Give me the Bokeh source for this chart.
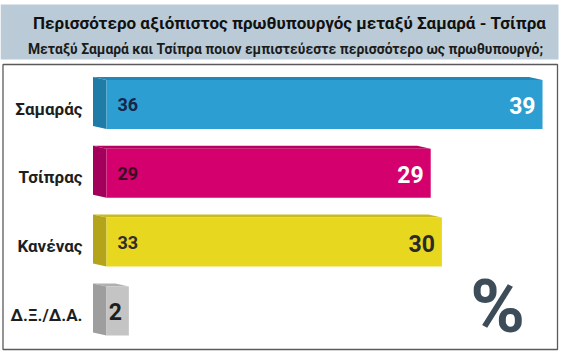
from bokeh.plotting import figure
from bokeh.models import Range1d
from bokeh.core.properties import value
from bokeh.embed import file_html
from bokeh.resources import INLINE

# ---- data ----
categories = ["Σαμαράς", "Τσίπρας", "Κανένας", "Δ.Ξ./Δ.Α."]
current = [39, 29, 30, 2]
previous = [36, 29, 33, None]
title_text = "Περισσότερο αξιόπιστος πρωθυπουργός μεταξύ Σαμαρά - Τσίπρα"
subtitle_text = "Μεταξύ Σαμαρά και Τσίπρα ποιον εμπιστεύεστε περισσότερο ως πρωθυπουργό;"
unit_text = "%"

# ---- styles ----
front_colors = ["#2c9ed2", "#d3006e", "#e8d71f", "#c4c4c4"]
side_colors = ["#1f7ca6", "#a2005a", "#b3a41b", "#9e9e9e"]
top_colors = ["#2388b8", "#b8005f", "#c9bb1c", "#b0b0b0"]
cur_text_colors = ["#ffffff", "#ffffff", "#2a2a2a", "#1e1e1e"]
prev_text_colors = ["#16264a", "#3b0a22", "#2e2e2e", "#2e2e2e"]
SANS = "Roboto"

W, H = 570, 357
X0_PX, PX_PER_UNIT = 106.0, 11.18
Y0_PX, PX_PER_ROW = 104.0, 68.8

def dx(px):
    return (px - X0_PX) / PX_PER_UNIT

def dy(py):
    return (py - Y0_PX) / PX_PER_ROW

p = figure(width=W, height=H, output_backend="svg", toolbar_location=None,
           x_range=Range1d(dx(0), dx(W)), y_range=Range1d(dy(H), dy(0)),
           min_border=0, min_border_left=0, min_border_right=0,
           min_border_top=0, min_border_bottom=0)
p.axis.visible = False
p.grid.visible = False
p.outline_line_color = None
p.background_fill_color = "white"
p.border_fill_color = "white"

# title band
p.quad(left=dx(0), right=dx(558), top=dy(4), bottom=dy(59),
       fill_color="#bacbd7", line_color=None)
# chart box
p.quad(left=dx(2.5), right=dx(557), top=dy(64), bottom=dy(349),
       fill_color=None, line_color="#5a5a5a", line_width=1.3)

p.text(x=[dx(289)], y=[dy(22)], text=[title_text], text_align="center",
       text_baseline="middle", text_font=value(SANS), text_font_style="bold",
       text_font_size="17px", text_color="#111111")
p.text(x=[dx(285)], y=[dy(48)], text=[subtitle_text], text_align="center",
       text_baseline="middle", text_font=value(SANS), text_font_style="bold",
       text_font_size="13.9px", text_color="#1b1b1b")

half = 24.5 / PX_PER_ROW
depth_x = -13.5 / PX_PER_UNIT
depth_y = -3.0 / PX_PER_ROW

rows = list(range(len(categories)))
side_xs, side_ys, top_xs, top_ys = [], [], [], []
for i, v in zip(rows, current):
    t, b = i - half, i + half
    side_xs.append([0, depth_x, depth_x, 0])
    side_ys.append([t, t + depth_y, b + depth_y, b])
    top_xs.append([0, depth_x, v + depth_x, v])
    top_ys.append([t, t + depth_y, t + depth_y, t])

p.patches(xs=top_xs, ys=top_ys, fill_color=top_colors, line_color=None)
p.patches(xs=side_xs, ys=side_ys, fill_color=side_colors, line_color=None)
p.quad(left=[0] * len(rows), right=current, top=[r - half for r in rows],
       bottom=[r + half for r in rows], fill_color=front_colors, line_color=None)

# category labels
p.text(x=[dx(82)] * len(rows), y=[r + 4 / PX_PER_ROW for r in rows], text=categories,
       text_align="right", text_baseline="middle", text_font=value(SANS),
       text_font_style="bold", text_font_size="17px", text_color="#1e1e1e")

# previous values
pr = [r for r, v in zip(rows, previous) if v is not None]
pv = [str(v) for v in previous if v is not None]
pc = [c for c, v in zip(prev_text_colors, previous) if v is not None]
p.text(x=[dx(117)] * len(pr), y=pr, text=pv, text_align="left", text_baseline="middle",
       text_font=value(SANS), text_font_style="bold", text_font_size="18px",
       text_color=pc)

# current values
p.text(x=[v - 7 / PX_PER_UNIT for v in current], y=[r + 1 / PX_PER_ROW for r in rows],
       text=[str(v) for v in current], text_align="right", text_baseline="middle",
       text_font=value(SANS), text_font_style="bold", text_font_size="23px",
       text_color=cur_text_colors)

p.text(x=[dx(497)], y=[dy(306)], text=[unit_text], text_align="center",
       text_baseline="middle", text_font=value(SANS), text_font_style="bold",
       text_font_size="74px", text_color="#3c4d59")

open("out.html", "w").write(file_html(p, INLINE))
